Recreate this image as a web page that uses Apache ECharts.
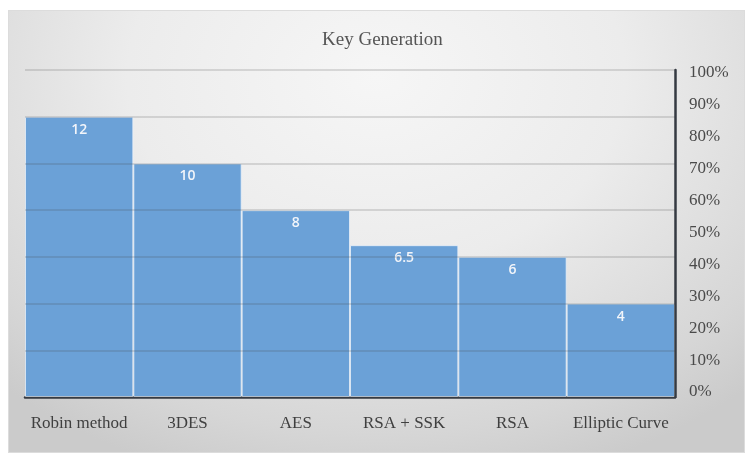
<!DOCTYPE html>
<html>
<head>
<meta charset="utf-8">
<script src="https://cdn.jsdelivr.net/npm/echarts@6/dist/echarts.min.js"></script>
<style>
  html, body { margin: 0; padding: 0; background: #ffffff; }
  #frame {
    position: absolute; left: 8px; top: 10px; width: 737px; height: 443px;
    background: radial-gradient(ellipse 75% 95% at 50% 15%, #f6f6f6 0%, #ececec 45%, #d6d6d6 85%, #cbcbcb 100%);
    box-shadow: inset 0 0 0 1px #dcdcdc;
  }
  #chart { position: absolute; left: 0; top: 0; width: 745px; height: 453px; }
</style>
</head>
<body>
<div id="frame"></div>
<div id="chart"></div>
<script>
const title = 'Key Generation';
const categories = ['Robin method', '3DES', 'AES', 'RSA + SSK', 'RSA', 'Elliptic Curve'];
const values = [12, 10, 8, 6.5, 6, 4];
const valueAxisMax = 14;
const valueAxisStep = 2;
const percentMax = 100;
const percentStep = 10;

const chart = echarts.init(document.getElementById('chart'), null, { renderer: 'canvas' });
const serif = '"Liberation Serif", "DejaVu Serif", serif';

chart.setOption({
  backgroundColor: 'transparent',
  animation: false,
  title: {
    text: title,
    left: 317,
    top: 26,
    textStyle: { fontFamily: serif, fontSize: 19, fontWeight: 'normal', color: '#555555' }
  },
  grid: [
    { left: 25, right: 70, top: 70, bottom: 56 },
    { left: 25, right: 70, top: 73, bottom: 61 }
  ],
  xAxis: [
    {
      type: 'category', gridIndex: 0, data: categories,
      axisLine: { show: true, lineStyle: { color: '#353a42', width: 2.5 } },
      axisTick: { show: false },
      axisLabel: { interval: 0, margin: 18, fontFamily: serif, fontSize: 17, color: '#3f3f3f' }
    },
    {
      type: 'category', gridIndex: 1, data: categories, show: false
    }
  ],
  yAxis: [
    {
      type: 'value', gridIndex: 0, position: 'left', min: 0, max: valueAxisMax, interval: valueAxisStep,
      z: 3,
      axisLine: { show: false }, axisTick: { show: false }, axisLabel: { show: false },
      splitLine: { show: true, lineStyle: { color: 'rgba(70,70,70,0.22)', width: 1.5 } }
    },
    {
      type: 'value', gridIndex: 0, position: 'right', min: 0, max: valueAxisMax, interval: valueAxisStep,
      z: 4,
      axisLine: { show: true, lineStyle: { color: '#353a42', width: 2.5 } },
      axisTick: { show: false }, axisLabel: { show: false }, splitLine: { show: false }
    },
    {
      type: 'value', gridIndex: 1, position: 'right', min: 0, max: percentMax, interval: percentStep,
      axisLine: { show: false }, axisTick: { show: false }, splitLine: { show: false },
      axisLabel: {
        margin: 14, fontFamily: serif, fontSize: 17, color: '#4a4a4a',
        formatter: v => v + '%'
      }
    }
  ],
  series: [
    {
      type: 'bar', xAxisIndex: 0, yAxisIndex: 0, data: values,
      barCategoryGap: '0%',
      itemStyle: { color: '#6ba1d7', borderColor: 'rgba(235,242,250,0.75)', borderWidth: 1 },
      label: {
        show: true, position: 'insideTop', distance: 6,
        fontFamily: '"Open Sans", "DejaVu Sans", sans-serif', fontSize: 14, fontWeight: 600,
        color: '#f2f5fa'
      }
    }
  ]
});
</script>
</body>
</html>
